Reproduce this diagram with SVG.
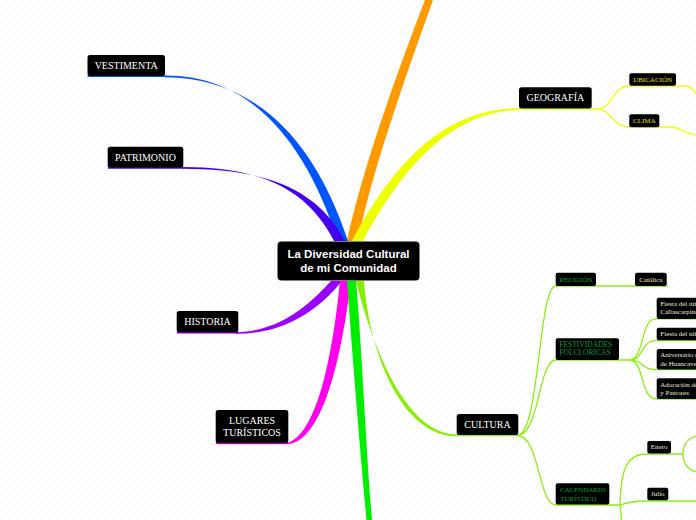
<svg xmlns="http://www.w3.org/2000/svg" width="696" height="520" viewBox="0 0 696 520">
<defs>
<pattern id="bg" width="8" height="8" patternUnits="userSpaceOnUse">
<path d="M-1,9 L9,-1 M-1,1 L1,-1 M7,9 L9,7" stroke="#f2f2f2" stroke-width="0.7" fill="none"/>
</pattern>
<style>
.box{fill:#000}
.c{font-family:"Liberation Sans",Arial,sans-serif;font-weight:bold;font-size:11.5px;fill:#fff;text-anchor:middle}
.l1{font-family:"Liberation Serif","Times New Roman",serif;font-size:10px;fill:#fff;text-anchor:middle}
.s{font-family:"Liberation Serif","Times New Roman",serif;font-size:7px;fill:#ecebd8}
.y{fill:#e2e200}
.g{fill:#00a040}
.m{text-anchor:middle}
.ln{fill:none;stroke-width:1.3}
.lime{stroke:#8aee11}
</style>
</defs>
<rect width="696" height="520" fill="#fff"/>
<rect width="696" height="520" fill="url(#bg)"/>
<g id="connectors">
<!-- orange up -->
<path d="M347,241 C362,170 398,70 425,0 L433,0 C408,70 372,170 358,241 Z" fill="#ff9900"/>
<!-- blue VESTIMENTA -->
<path d="M165,75.5 C250,75 305,140 338,241 L348,241 C314,138 254,77.8 165,77.3 Z" fill="#0055ff"/>
<line x1="87.5" y1="76.3" x2="166" y2="76.3" stroke="#0055ff" stroke-width="1.5"/>
<!-- indigo PATRIMONIO -->
<path d="M183,167 C262,167 308,190 334,241 L345,241 C316,187 264,169.3 183,168.8 Z" fill="#4400ee"/>
<line x1="107.7" y1="167.9" x2="184" y2="167.9" stroke="#4400ee" stroke-width="1.5"/>
<!-- yellow GEOGRAFIA -->
<path d="M352,241 C390,170 440,108.5 519,108.3 L519,110 C446,112 398,176 363,241 Z" fill="#eeff00"/>
<path class="ln" stroke="#eeff00" d="M519,109.2 H597 M597,109.2 C613,109 612,86 629,86 L686,86 C692,86 694,92 698,96 M597,109.2 C612,109 612,127 629,127 L670,127 C680,127 684,134 698,135"/>
<!-- purple HISTORIA -->
<path d="M236,332 C272,332 302,313 331,281 L342,281 C312,318 276,334 236,333.8 Z" fill="#9900ff"/>
<line x1="176.7" y1="332.8" x2="238" y2="332.8" stroke="#9900ff" stroke-width="1.5"/>
<!-- magenta LUGARES -->
<path d="M287,443 C306,438 328,400 340,281 L351,281 C336,400 312,443 287,444.3 Z" fill="#ff00ee"/>
<line x1="215.7" y1="443.5" x2="288" y2="443.5" stroke="#ff00ee" stroke-width="1.5"/>
<!-- green down -->
<path d="M347,281 C352,350 360,450 366.5,520 L372,520 C366,450 362,350 356,281 Z" fill="#00ee00"/>
<!-- lime CULTURA -->
<path d="M356,281 C376,360 410,434.5 457,434.5 L457,436.3 C405,437 370,360 364,281 Z" fill="#88ee00"/>
<path class="ln lime" d="M456.7,435.5 H518 M517,435.5 C540,435.5 538,286 556,286 H668 M517,435.5 C540,435.5 538,360 556,360 H629 M517,435.5 C540,435.5 538,505 556,505 H620"/>
<path class="ln lime" d="M629,360 C645,360 640,318.8 656,318.8 H698 M629,360 C645,360 640,340.6 656,340.6 H698 M629,360 C645,360 640,369.6 656,369.6 H698 M629,360 C645,360 640,399 656,399 H698"/>
<path class="ln lime" d="M620,505 C621,470 626,454 647,454 H683 C683,445 688,438 698,435.5 M683,454 C683,463 688,470 698,472.5 M620,505 C628,502 635,501 647,501 H698 M620,505 C621,511 621,516 621.5,521"/>
</g>
<g id="center">
<rect class="box" x="277.5" y="241.5" width="142" height="39" rx="4"/>
<text class="c" x="348.5" y="257.8">La Diversidad Cultural</text>
<text class="c" x="348.5" y="272">de mi Comunidad</text>
</g>
<g id="vestimenta">
<rect class="box" x="87.5" y="55" width="77.5" height="21" rx="2.5"/>
<text class="l1" x="126.2" y="69.2">VESTIMENTA</text>
</g>
<g id="patrimonio">
<rect class="box" x="107.7" y="146.7" width="75.6" height="21" rx="2.5"/>
<text class="l1" x="145.5" y="160.7">PATRIMONIO</text>
</g>
<g id="historia">
<rect class="box" x="176.7" y="311" width="61.6" height="21.5" rx="2.5"/>
<text class="l1" x="207.5" y="325.3">HISTORIA</text>
</g>
<g id="lugares">
<rect class="box" x="215.7" y="410" width="72.6" height="33.3" rx="2.5"/>
<text class="l1" x="252" y="423.5">LUGARES</text>
<text class="l1" x="252" y="435.7">TURÍSTICOS</text>
</g>
<g id="geografia">
<rect class="box" x="519" y="87.3" width="72.7" height="21.3" rx="2.5"/>
<text class="l1" x="555.3" y="101.3">GEOGRAFÍA</text>
</g>
<g id="ubicacion">
<rect class="box" x="629.3" y="73.3" width="46.7" height="12.5" rx="2"/>
<text class="s y m" x="652.6" y="81.7">UBICACIÓN</text>
</g>
<g id="clima">
<rect class="box" x="629.3" y="114.3" width="30" height="13" rx="2"/>
<text class="s y m" x="644.3" y="123.2">CLIMA</text>
</g>
<g id="cultura">
<rect class="box" x="456.7" y="414" width="61.6" height="21" rx="2.5"/>
<text class="l1" x="487.5" y="428">CULTURA</text>
</g>
<g id="religion">
<rect class="box" x="555.7" y="272.7" width="40.3" height="13.3" rx="2"/>
<text class="s g m" x="575.8" y="281.8">RELIGIÓN</text>
</g>
<g id="catolica">
<rect class="box" x="635" y="272.7" width="31.7" height="13.3" rx="2"/>
<text class="s m" x="650.8" y="281.8">Católica</text>
</g>
<g id="festividades">
<rect class="box" x="555.7" y="338.3" width="63.3" height="21.7" rx="2"/>
<text class="s g" x="559.3" y="346.7" style="font-size:7.5px">FESTIVIDADES</text>
<text class="s g" x="559.3" y="355.2" style="font-size:7.5px">FOLCLORICAS</text>
</g>
<g id="fiesta1">
<rect class="box" x="656.7" y="297.7" width="60" height="21.3" rx="2"/>
<text class="s" x="660.3" y="305.8">Fiesta del niño</text>
<text class="s" x="660.3" y="314.2">Callascarpino</text>
</g>
<g id="fiesta2">
<rect class="box" x="656.7" y="327.7" width="60" height="12.6" rx="2"/>
<text class="s" x="660.3" y="336">Fiesta del niño</text>
</g>
<g id="aniversario">
<rect class="box" x="656.7" y="349" width="60" height="20.4" rx="2"/>
<text class="s" x="660.3" y="357.2">Aniversario de</text>
<text class="s" x="660.3" y="365.6">de Huancavelica</text>
</g>
<g id="adoracion">
<rect class="box" x="656.7" y="378.3" width="60" height="20.8" rx="2"/>
<text class="s" x="660.3" y="386.6">Adoración de</text>
<text class="s" x="660.3" y="395">y Pastores</text>
</g>
<g id="calendario">
<rect class="box" x="555.7" y="483.3" width="53.6" height="21.2" rx="2"/>
<text class="s g" x="560" y="492">CALENDARIO</text>
<text class="s g" x="560" y="500.5">TURÍSTICO</text>
</g>
<g id="enero">
<rect class="box" x="647.3" y="441" width="23.7" height="12.5" rx="2"/>
<text class="s m" x="659.2" y="449.3">Enero</text>
</g>
<g id="julio">
<rect class="box" x="647.3" y="487.7" width="21" height="12.5" rx="2"/>
<text class="s m" x="657.8" y="496.2">Julio</text>
</g>
</svg>
